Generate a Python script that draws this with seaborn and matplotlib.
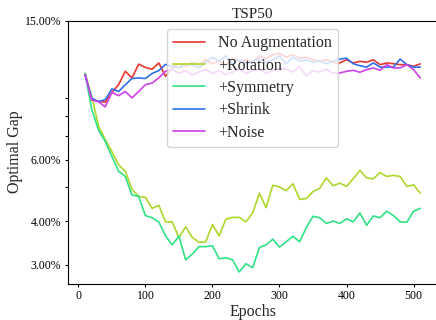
import numpy as np
import pandas as pd
import matplotlib
matplotlib.use("Agg")
import matplotlib.pyplot as plt
import seaborn as sns
from matplotlib.ticker import PercentFormatter, NullFormatter, FixedLocator

epochs = list(range(10, 520, 10))

no_aug = [10.58, 8.91, 8.81, 8.77, 9.35, 9.84, 10.75, 10.29, 11.27, 11.02, 10.90, 11.36, 10.40,
          11.0, 11.3, 11.1, 11.4, 11.2, 11.6, 11.3, 11.5, 11.2, 11.7, 11.5, 11.6, 11.4, 11.9, 11.7,
          12.0, 12.1, 11.8, 12.0, 11.7, 11.8, 11.6, 11.5, 11.6, 11.4,
          11.36, 11.60, 11.36, 11.48, 11.41, 11.60, 11.23, 11.36, 11.30, 11.23, 11.23, 11.11, 11.29]
rotation = [10.6, 9.1, 7.5, 6.85, 6.33, 5.80, 5.56, 4.93, 4.71, 4.68, 4.35, 4.44, 3.98, 3.98,
            3.59, 3.85, 3.59, 3.48, 3.49, 3.91, 3.63, 4.05, 4.10, 4.10, 3.98, 4.22, 4.81, 4.37,
            5.07, 5.01, 4.89, 5.12, 4.62, 4.64, 4.86, 4.97, 5.32, 5.05, 5.14, 5.03, 5.29, 5.59,
            5.32, 5.29, 5.51, 5.37, 5.41, 5.37, 5.03, 5.08, 4.81]
symmetry = [10.6, 8.35, 7.3, 6.77, 6.13, 5.56, 5.37, 4.75, 4.71, 4.15, 4.09, 3.98, 3.63, 3.42,
            3.62, 3.10, 3.22, 3.38, 3.38, 3.40, 3.12, 3.14, 3.10, 2.86, 3.02, 2.94, 3.36, 3.42,
            3.55, 3.37, 3.49, 3.62, 3.49, 3.83, 4.13, 4.09, 3.94, 4.00, 3.94, 4.06, 3.98, 4.22,
            3.89, 4.14, 4.09, 4.27, 4.15, 3.98, 3.97, 4.27, 4.35]
shrink = [10.5, 9.0, 8.81, 8.91, 9.57, 9.41, 9.84, 10.25, 10.29, 10.25, 10.6, 10.8, 11.25,
          11.1, 11.0, 11.3, 11.2, 11.0, 11.4, 11.8, 11.5, 11.9, 11.3, 11.6, 11.3, 11.5, 11.7, 11.4,
          11.6, 11.9, 11.3, 11.8, 11.5, 11.6, 11.4, 11.5, 11.3, 11.5,
          11.65, 11.72, 11.30, 11.15, 11.05, 11.36, 11.05, 11.05, 11.05, 11.65, 11.23, 11.05, 11.05]
noise = [10.5, 8.9, 8.8, 8.5, 9.35, 9.15, 9.41, 9.02, 9.41, 9.84, 9.95, 10.29, 10.75,
         10.9, 10.6, 10.8, 10.5, 10.7, 10.9, 10.6, 10.8, 10.5, 10.7, 10.9, 10.6, 10.8, 10.9, 10.6,
         10.8, 11.0, 10.9, 10.7, 11.1, 10.4, 10.8, 10.7, 10.9, 10.6,
         10.63, 10.75, 10.82, 10.68, 10.87, 10.99, 10.82, 11.23, 10.99, 10.99, 11.23, 10.87, 10.29]

labels = ["No Augmentation", "+Rotation", "+Symmetry", "+Shrink", "+Noise"]
series = [no_aug, rotation, symmetry, shrink, noise]
colors = ["#e8362f", "#acd72c", "#30e285", "#306fe8", "#ce40e8"]
y_ticks = [3, 4, 6, 15]

df = pd.concat([pd.DataFrame({"Epochs": epochs, "gap": s, "method": lab})
                for lab, s in zip(labels, series)], ignore_index=True)

sns.set_theme(style="ticks")
plt.rcParams["font.family"] = ["Liberation Serif", "DejaVu Serif"]

fig = plt.figure(figsize=(4.36, 3.2), dpi=100)
ax = fig.add_axes([0.1567, 0.114, 0.8456, 0.821])

sns.lineplot(data=df, x="Epochs", y="gap", hue="method", hue_order=labels,
             palette=dict(zip(labels, colors)), linewidth=1.2, ax=ax)

ax.set_yscale("log")
ax.set_ylim(2.65, 15)
ax.set_xlim(-15, 535)
ax.yaxis.set_major_locator(FixedLocator(y_ticks))
ax.yaxis.set_major_formatter(PercentFormatter(xmax=100, decimals=2))
ax.yaxis.set_minor_formatter(NullFormatter())
ax.set_xticks([0, 100, 200, 300, 400, 500])
ax.tick_params(axis="both", which="both", labelsize=8.5, length=2.5, width=0.8, pad=2.5, colors="black")

ax.set_xlabel("Epochs", fontsize=11.5, labelpad=1)
ax.set_ylabel("Optimal Gap", fontsize=11.5, labelpad=1)
ax.set_title("TSP50", fontsize=11, pad=2)
for sp in ax.spines.values():
    sp.set_color("black")
    sp.set_linewidth(0.8)

handles, labs = ax.get_legend_handles_labels()
ax.legend(handles, labs, loc="upper center", fontsize=11.5, frameon=True,
          handlelength=2.0, borderaxespad=0.5, labelspacing=0.4)

fig.savefig("out.png", dpi=100)
